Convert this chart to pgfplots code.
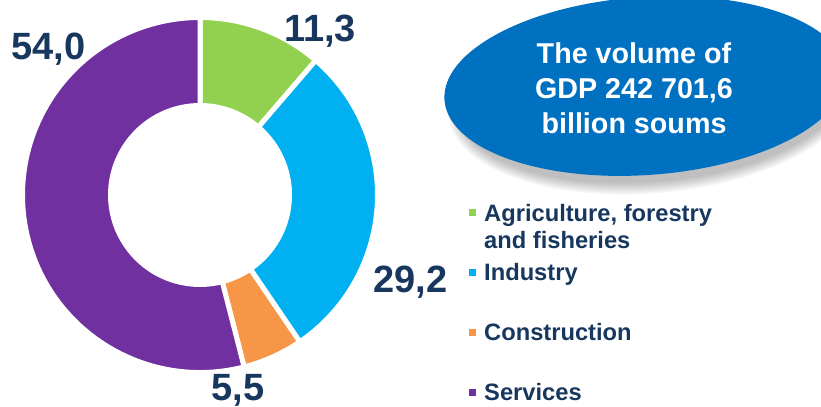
\documentclass[border=0pt]{standalone}
\usepackage{fontspec}
\setmainfont{Liberation Sans}
\usepackage{pgfplots}
\pgfplotsset{compat=1.18}
\usepackage{pgfplotstable}

\definecolor{agri}{HTML}{92D050}
\definecolor{ind}{HTML}{00B0F0}
\definecolor{cons}{HTML}{F79646}
\definecolor{serv}{HTML}{7030A0}
\definecolor{navy}{HTML}{17375E}
\definecolor{oval}{HTML}{0070C0}

% GDP structure, per cent
\pgfplotstableread{
sector value colour
Agriculture 11.3 agri
Industry 29.2 ind
Construction 5.5 cons
Services 54.0 serv
}\gdp

\newcommand\share[1]{%
  \pgfplotstablegetelem{#1}{value}\of\gdp
  \pgfmathprintnumber[fixed,fixed zerofill,precision=1,use comma,assume math mode=true]{\pgfplotsretval}}

\begin{document}
\begin{tikzpicture}
\begin{axis}[
  width=821bp, height=407bp, scale only axis,
  xmin=0, xmax=821, ymin=0, ymax=407,
  hide axis,
]
% donut
\def\startang{90}
\pgfplotsforeachungrouped \i in {0,...,3}{%
  \pgfplotstablegetelem{\i}{value}\of\gdp \let\sliceval\pgfplotsretval
  \pgfplotstablegetelem{\i}{colour}\of\gdp \let\slicecol\pgfplotsretval
  \pgfmathsetmacro\endang{\startang-3.6*\sliceval}
  \edef\temp{\noexpand\path[fill=\slicecol, draw=white, line width=5bp]
    ([shift={(\startang:177.5bp)}]axis cs:200,212)
      arc[start angle=\startang, end angle=\endang, radius=177.5bp]
    -- ([shift={(\endang:89.5bp)}]axis cs:200,212)
      arc[start angle=\endang, end angle=\startang, radius=89.5bp] -- cycle;}
  \temp
  \global\let\startang\endang
}

% value labels
\node[anchor=base, navy, font=\fontsize{38bp}{40bp}\selectfont\bfseries]
  at (axis cs:320,365) {\share{0}};
\node[anchor=base, navy, font=\fontsize{38bp}{40bp}\selectfont\bfseries]
  at (axis cs:410.5,114) {\share{1}};
\node[anchor=base, navy, font=\fontsize{38bp}{40bp}\selectfont\bfseries]
  at (axis cs:238,7) {\share{2}};
\node[anchor=base, navy, font=\fontsize{38bp}{40bp}\selectfont\bfseries]
  at (axis cs:48.5,347) {\share{3}};

% oval with shadow
\pgfplotsinvokeforeach{0,...,7}{%
  \fill[black, opacity=0.035] (axis cs:653,309)
    ellipse[x radius={194bp+#1*1.6bp}, y radius={84bp+#1*1.6bp}, rotate=5];
}
\fill[oval] (axis cs:645,321) ellipse[x radius=201bp, y radius=89bp, rotate=4];
\node[white, align=center, font=\fontsize{28.7bp}{35bp}\selectfont\bfseries]
  at (axis cs:634,319) {The volume of\\GDP 242 701,6\\billion soums};

% legend
\addplot[only marks, mark=square*, mark size=3bp, agri] coordinates {(472,195)};
\addplot[only marks, mark=square*, mark size=3bp, ind] coordinates {(472,135)};
\addplot[only marks, mark=square*, mark size=3bp, cons] coordinates {(472,75)};
\addplot[only marks, mark=square*, mark size=3bp, serv] coordinates {(472,15)};
\tikzset{leg/.style={anchor=base west, navy, inner sep=0pt,
  font=\fontsize{23.7bp}{27bp}\selectfont\bfseries}}
\node[leg] at (axis cs:484,185) {Agriculture, forestry};
\node[leg] at (axis cs:484,158) {and fisheries};
\node[leg] at (axis cs:484,126) {Industry};
\node[leg] at (axis cs:484,66) {Construction};
\node[leg] at (axis cs:484,7) {Services};
\end{axis}
\pgfresetboundingbox
\path[use as bounding box] (0,0) rectangle (821bp,407bp);
\end{tikzpicture}
\end{document}
